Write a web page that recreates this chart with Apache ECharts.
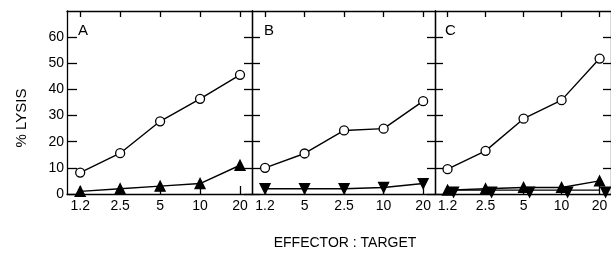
<!DOCTYPE html>
<html>
<head>
<meta charset="utf-8">
<script src="https://cdn.jsdelivr.net/npm/echarts@6/dist/echarts.min.js"></script>
<style>
  html, body { margin: 0; padding: 0; background: #fff; }
  #chart { width: 611px; height: 253px; }
</style>
</head>
<body>
<div id="chart"></div>
<script>
// tick labels of each panel (B is printed in this order on the figure)
var labelsA = ['1.2', '2.5', '5', '10', '20'];
var labelsB = ['1.2', '5', '2.5', '10', '20'];
var labelsC = ['1.2', '2.5', '5', '10', '20'];
var yTicks = [0, 10, 20, 30, 40, 50, 60];

// % lysis
var openA = [8.2, 15.6, 27.8, 36.4, 45.6];
var upA = [1, 2, 3, 4, 11];
var openB = [10, 15.5, 24.3, 25, 35.5];
var downB = [2, 2, 2, 2.5, 4];
var openC = [9.5, 16.5, 28.8, 35.9, 51.8];
var upC = [1.5, 2, 2.5, 2.5, 5];
var downC = [1.5, 1.5, 1.5, 1.5, 1.5];

var FONT = 'Liberation Sans';
var chart = echarts.init(document.getElementById('chart'));

function pts(arr) {
  return arr.map(function (v, i) { return [i, v]; });
}

var grids = [
  { left: 67, top: 11, width: 185, height: 183 },
  { left: 252, top: 11, width: 183, height: 183 },
  { left: 435, top: 11, width: 184, height: 183 }
];
var panelLabels = [labelsA, labelsB, labelsC];
var black = { color: '#000', width: 1.3 };

var xAxes = [], yAxes = [];
grids.forEach(function (g, k) {
  var labs = panelLabels[k];
  // bottom axis with labels
  xAxes.push({
    type: 'value', gridIndex: k, min: -0.33, max: 4.3, position: 'bottom',
    axisLine: { show: true, onZero: false, lineStyle: black },
    axisTick: { show: true, inside: true, length: 8, customValues: [0, 1, 2, 3, 4], lineStyle: black },
    axisLabel: {
      customValues: [0, 1, 2, 3, 4], margin: 5, color: '#000', fontFamily: FONT, fontSize: 14,
      formatter: function (v) { return labs[Math.round(v)]; }
    },
    splitLine: { show: false }
  });
  // top border with ticks
  xAxes.push({
    type: 'value', gridIndex: k, min: -0.33, max: 4.3, position: 'top',
    axisLine: { show: true, onZero: false, lineStyle: black },
    axisTick: { show: true, inside: true, length: 6, customValues: [0, 1, 2, 3, 4], lineStyle: black },
    axisLabel: { show: false },
    splitLine: { show: false }
  });
  yAxes.push({
    type: 'value', gridIndex: k, min: 0, max: 70, position: 'left',
    axisLine: { show: true, onZero: false, lineStyle: black },
    axisTick: { show: true, inside: true, length: k === 0 ? 10 : 8, customValues: yTicks, lineStyle: black },
    axisLabel: { show: k === 0, customValues: yTicks, margin: 3, color: '#000', fontFamily: FONT, fontSize: 14 },
    splitLine: { show: false }
  });
  yAxes.push({
    type: 'value', gridIndex: k, min: 0, max: 70, position: 'right',
    axisLine: { show: true, onZero: false, lineStyle: black },
    axisTick: { show: true, inside: true, length: 8, customValues: yTicks, lineStyle: black },
    axisLabel: { show: false },
    splitLine: { show: false }
  });
});

function lineSeries(k, data, symbol, filled, rotate, offset) {
  return {
    type: 'line', xAxisIndex: k * 2, yAxisIndex: k * 2,
    data: pts(data), symbol: symbol, symbolSize: symbol === 'circle' ? 9 : 10,
    symbolRotate: rotate || 0, symbolOffset: offset || [0, 0],
    showAllSymbol: true, silent: true, z: symbol === 'circle' ? 3 : 2,
    lineStyle: { color: '#000', width: 1.4 },
    itemStyle: { color: filled ? '#000' : '#fff', borderColor: '#000', borderWidth: 1.3 }
  };
}

var series = [
  lineSeries(0, openA, 'circle', false),
  lineSeries(0, upA, 'triangle', true),
  lineSeries(1, openB, 'circle', false),
  lineSeries(1, downB, 'triangle', true, 180),
  lineSeries(2, openC, 'circle', false),
  lineSeries(2, upC, 'triangle', true),
  lineSeries(2, downC, 'triangle', true, 180, [6, 2])
];

chart.setOption({
  backgroundColor: '#fff',
  animation: false,
  grid: grids,
  xAxis: xAxes,
  yAxis: yAxes,
  series: series,
  graphic: [
    { type: 'text', left: 78, top: 23, style: { text: 'A', fill: '#000', font: '15px ' + FONT } },
    { type: 'text', left: 264, top: 23, style: { text: 'B', fill: '#000', font: '15px ' + FONT } },
    { type: 'text', left: 445, top: 23, style: { text: 'C', fill: '#000', font: '15px ' + FONT } },
    { type: 'text', x: 22, y: 118, rotation: Math.PI / 2, style: { text: '% LYSIS', fill: '#000', font: '15px ' + FONT, align: 'center', verticalAlign: 'middle' } },
    { type: 'text', x: 345, y: 243, style: { text: 'EFFECTOR : TARGET', fill: '#000', font: '14px ' + FONT, align: 'center', verticalAlign: 'middle' } }
  ]
});
</script>
</body>
</html>
